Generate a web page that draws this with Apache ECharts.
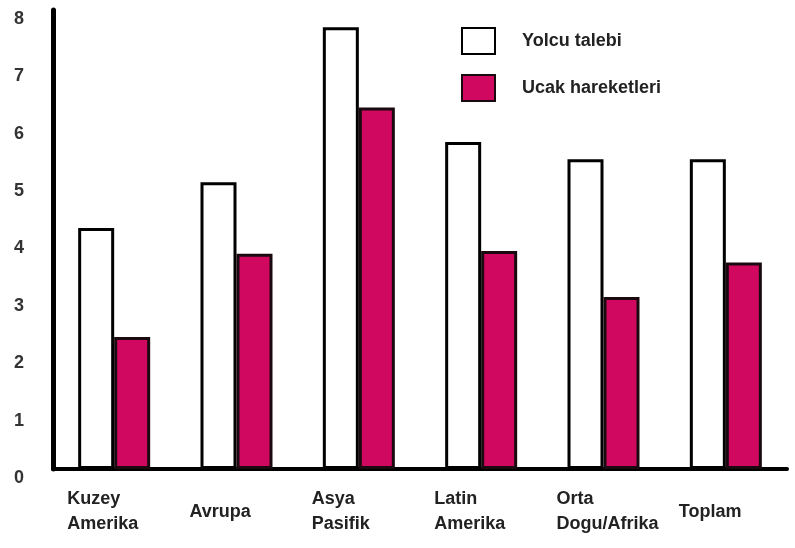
<!DOCTYPE html>
<html>
<head>
<meta charset="utf-8">
<script src="https://cdn.jsdelivr.net/npm/echarts@6/dist/echarts.min.js"></script>
<style>
  html, body { margin: 0; padding: 0; background: #fff; }
  #chart { width: 795px; height: 548px; }
</style>
</head>
<body>
<div id="chart"></div>
<script>
// categories (two-line labels kept as in the picture)
const regions = ["Kuzey\nAmerika", "Avrupa", "Asya\nPasifik", "Latin\nAmerika", "Orta\nDogu/Afrika", "Toplam"];
const yolcuTalebi = [4.2, 5.0, 7.7, 5.7, 5.4, 5.4];
const ucakHareketleri = [2.3, 3.75, 6.3, 3.8, 3.0, 3.6];
const yTicks = [0, 1, 2, 3, 4, 5, 6, 7, 8];

const font = "'Liberation Sans', Arial, sans-serif";
const pink = "#d0085f";

const chart = echarts.init(document.getElementById("chart"));

const option = {
  backgroundColor: "#fff",
  animation: false,
  textStyle: {fontFamily: font},
  grid: {left: 53, right: 8, top: 10, bottom: 79},
  legend: {
    orient: "vertical",
    left: 456,
    top: 22,
    icon: "rect",
    itemWidth: 33,
    itemHeight: 26,
    itemGap: 19,
    textStyle: {
      fontFamily: font,
      fontSize: 18,
      fontWeight: "bold",
      color: "#222",
      padding: [0, 0, 0, 22],
    },
    data: ["Yolcu talebi", "Ucak hareketleri"],
  },
  xAxis: {
    type: "category",
    data: regions,
    axisLine: {lineStyle: {color: "#000", width: 4}},
    axisTick: {show: false},
    axisLabel: {
      margin: 43,
      verticalAlign: "middle",
      formatter: function(v) {
        return v.split("\n").map(s => "{a|" + s + "}").join("\n");
      },
      rich: {
        a: {
          width: 94,
          align: "left",
          fontFamily: font,
          fontSize: 18,
          fontWeight: "bold",
          color: "#222",
          lineHeight: 25,
        },
      },
    },
  },
  yAxis: {
    type: "value",
    min: yTicks[0],
    max: yTicks[yTicks.length - 1],
    interval: 1,
    axisLine: {show: true, lineStyle: {color: "#000", width: 5}},
    axisTick: {show: false},
    splitLine: {show: false},
    axisLabel: {
      margin: 29,
      verticalAlign: "top",
      fontFamily: font,
      fontSize: 18,
      fontWeight: "bold",
      color: "#333",
    },
  },
  series: [
    {
      name: "Yolcu talebi",
      type: "bar",
      barWidth: 36,
      barGap: "0%",
      data: yolcuTalebi,
      itemStyle: {color: "#fff", borderColor: "#000", borderWidth: 3},
    },
    {
      name: "Ucak hareketleri",
      type: "bar",
      barWidth: 36,
      data: ucakHareketleri,
      itemStyle: {color: pink, borderColor: "#1a0a10", borderWidth: 3},
    },
  ],
};

chart.setOption(option);
</script>
</body>
</html>
